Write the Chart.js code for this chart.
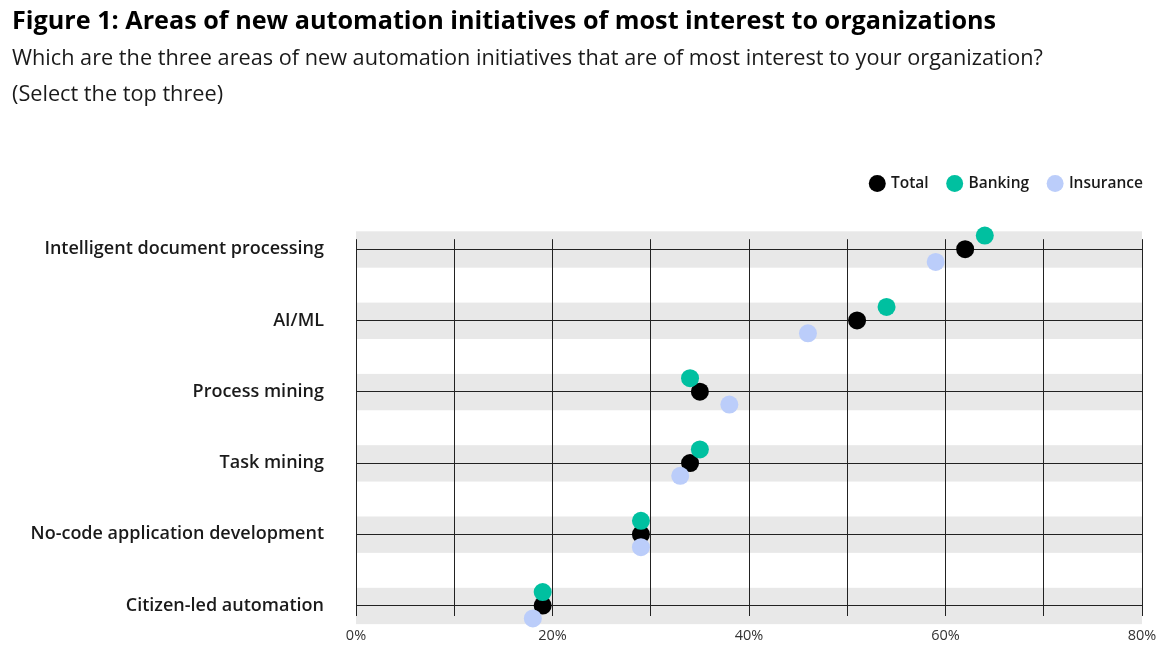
<!DOCTYPE html>
<html>
<head>
<meta charset="utf-8">
<script src="https://cdn.jsdelivr.net/npm/chart.js@4"></script>
<style>
  html, body { margin: 0; padding: 0; background: #fff; }
  #wrap { width: 1164px; height: 658px; }
</style>
</head>
<body>
<div id="wrap"><canvas id="myChart"></canvas></div>
<script>
let categories = ['Intelligent document processing', 'AI/ML', 'Process mining', 'Task mining', 'No-code application development', 'Citizen-led automation']
let totalVals = [62, 51, 35, 34, 29, 19]
let bankingVals = [64, 54, 34, 35, 29, 19]
let insuranceVals = [59, 46, 38, 33, 29, 18]
let xTicks = [0, 10, 20, 30, 40, 50, 60, 70, 80]
let xTickLabels = ['0%', '', '20%', '', '40%', '', '60%', '', '80%']

// small vertical shift so the three dots of a row don't sit on each other
const rowShift = { total: 0, banking: -0.19, insurance: 0.18 }

function toPoints(vals, shift) {
    return vals.map(function (v, i) {
        return { x: v, y: i + shift }
    })
}

// grey band behind every row
const bandPlugin = {
    id: 'bands',
    beforeDraw(chart) {
        const { ctx, chartArea, scales } = chart
        ctx.save()
        ctx.fillStyle = '#e8e8e8'
        categories.forEach(function (c, i) {
            let top = scales.y.getPixelForValue(i - 0.25)
            let bottom = scales.y.getPixelForValue(i + 0.26)
            ctx.fillRect(chartArea.left, top, chartArea.right - chartArea.left, bottom - top)
        })
        ctx.restore()
    }
}

Chart.defaults.font.family = '"Open Sans"'
Chart.defaults.color = '#1a1a1a'

let currChart = document.getElementById('myChart').getContext('2d')

let dotChart = new Chart(currChart, {
    type: 'scatter',
    data: {
        datasets: [{
            label: 'Total',
            data: toPoints(totalVals, rowShift.total),
            backgroundColor: '#000000',
            borderColor: '#000000',
            order: 3,
        }, {
            label: 'Banking',
            data: toPoints(bankingVals, rowShift.banking),
            backgroundColor: '#00c0a0',
            borderColor: '#00c0a0',
            order: 2,
        }, {
            label: 'Insurance',
            data: toPoints(insuranceVals, rowShift.insurance),
            backgroundColor: '#bbcdfa',
            borderColor: '#bbcdfa',
            order: 1,
        }]
    },
    options: {
        responsive: true,
        maintainAspectRatio: false,
        animation: false,
        datasets: {
            scatter: {
                pointRadius: 9,
                pointHoverRadius: 9,
                borderWidth: 0,
                clip: false,
            }
        },
        layout: {
            padding: { left: 12, right: 1, top: 0, bottom: 1 }
        },
        plugins: {
            tooltip: { enabled: false },
            title: {
                display: true,
                text: 'Figure 1: Areas of new automation initiatives of most interest to organizations',
                align: 'start',
                color: '#000000',
                font: { size: 25.2, weight: 'bold', lineHeight: 1.2 },
                padding: { top: 7, bottom: 0 },
            },
            subtitle: {
                display: true,
                text: ['Which are the three areas of new automation initiatives that are of most interest to your organization?', '(Select the top three)'],
                align: 'start',
                color: '#1a1a1a',
                font: { size: 21.7, lineHeight: 1.64 },
                padding: { top: 4.25, bottom: 43 },
            },
            legend: {
                position: 'top',
                align: 'end',
                labels: {
                    usePointStyle: true,
                    boxWidth: 12,
                    boxHeight: 12,
                    padding: 20,
                    color: '#1a1a1a',
                    font: { size: 15.5, weight: 600 },
                    sort: (a, b) => a.datasetIndex - b.datasetIndex,
                },
            },
        },
        scales: {
            x: {
                type: 'linear',
                position: 'bottom',
                min: 0,
                max: 80,
                afterBuildTicks: s => { s.ticks = xTicks.map(v => ({ value: v })) },
                afterFit: s => { s.paddingRight = 22 },
                ticks: {
                    autoSkip: false,
                    maxRotation: 0,
                    padding: 12,
                    color: '#333333',
                    font: { size: 14.5 },
                    callback: (v, i) => xTickLabels[i],
                },
                grid: { color: '#222222', lineWidth: 1, drawTicks: false },
                border: { display: false },
            },
            gap: {
                type: 'linear',
                position: 'top',
                display: true,
                afterFit: s => { s.height = 38 },
                ticks: { display: false },
                grid: { display: false, drawTicks: false },
                border: { display: false },
            },
            y: {
                type: 'linear',
                reverse: true,
                min: -0.14,
                max: 5.14,
                afterBuildTicks: s => { s.ticks = categories.map((c, i) => ({ value: i })) },
                afterFit: s => {
                    s.width = 344
                    s.paddingTop = 0
                    s.paddingBottom = 0
                },
                ticks: {
                    autoSkip: false,
                    padding: 32,
                    color: '#1a1a1a',
                    font: { size: 18, weight: 600 },
                    callback: v => categories[v],
                },
                grid: { color: '#222222', lineWidth: 1, drawTicks: false },
                border: { display: false },
            },
        },
    },
    plugins: [bandPlugin],
})
</script>
</body>
</html>
